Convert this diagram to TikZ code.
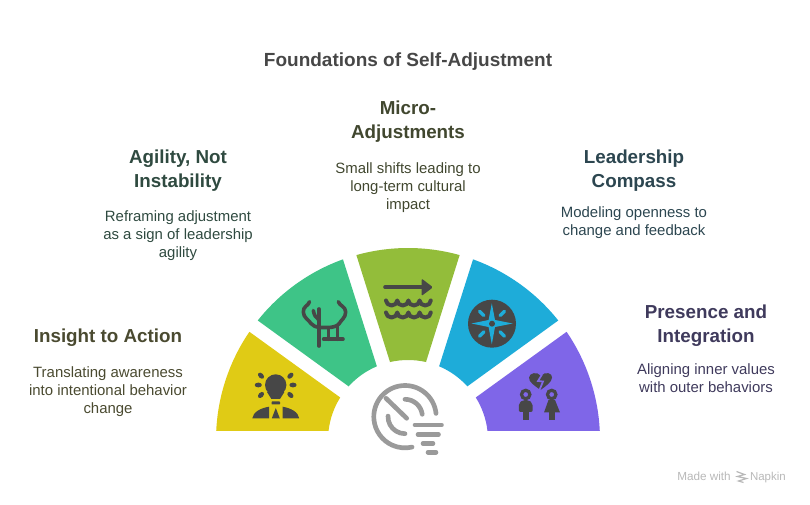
\documentclass[tikz,border=0pt]{standalone}
\usepackage{fontspec}
\setmainfont{Liberation Sans}
\usepackage{tikz}
\usetikzlibrary{positioning}
\usetikzlibrary{calc}
\tikzset{head node/.style={align=center,inner sep=0pt,font=\fontsize{14.1}{18}\selectfont\bfseries},
	desc node/.style={align=center,inner sep=0pt,font=\fontsize{11.2}{13.5}\selectfont},
	icon line/.style={draw=iconc,line width=2.7pt,line cap=round,line join=round},
	hub line/.style={draw=hubc,line width=3.5pt,line cap=round},}
\definecolor{iconc}{HTML}{474747}
\definecolor{hubc}{HTML}{9A9A9A}
\definecolor{yel}{HTML}{E0CB15}
\definecolor{grn}{HTML}{3EC487}
\definecolor{oli}{HTML}{93BD3A}
\definecolor{blu}{HTML}{1EACD9}
\definecolor{pur}{HTML}{7F66E8}
\definecolor{yelt}{HTML}{4A4A30}
\definecolor{grnt}{HTML}{2F4A40}
\definecolor{olit}{HTML}{41472F}
\definecolor{blut}{HTML}{2C4650}
\definecolor{purt}{HTML}{3F3A5C}
\definecolor{markc}{HTML}{B8B8B8}

\begin{document}
\begin{tikzpicture}[x=0.75pt, y=0.75pt]
	\useasboundingbox (0,0) rectangle (810,-505);
	\coordinate (hub) at (408,-440);

	% sectors: colour, outer from/to, inner from/to
	\foreach \col/\oa/\ob/\ia/\ib in {yel/177.3/145.7/147.9/173.5, grn/141.5/109.8/112.9/137.9,
		oli/105.6/74.4/77/103, blu/70.2/38.5/42.1/67.1, pur/34.3/2.7/6.5/32.1}
	\fill[\col] ($(hub)+(\oa:192)$) arc[start angle=\oa, end angle=\ob, radius=192]
		-- ($(hub)+(\ia:80)$) arc[start angle=\ia, end angle=\ib, radius=80] -- cycle;

	% texts
	\node[font=\fontsize{14.25}{18}\selectfont\bfseries, text=iconc, inner sep=0pt] (title) at (408,-62) {Foundations of Self-Adjustment};

	\node[head node, text=yelt] (insight) at (108,-338) {Insight to Action};
	\node[desc node, text=yelt, below=14.3pt of insight] (insightd) {Translating awareness\\into intentional behavior\\change};

	\node[head node, text=grnt] (agility) at (178,-170.5) {Agility, Not\\Instability};
	\node[desc node, text=grnt, below=14.5pt of agility] (agilityd) {Reframing adjustment\\as a sign of leadership\\agility};

	\node[head node, text=olit] (micro) at (408,-122) {Micro-\\Adjustments};
	\node[desc node, text=olit, below=14.3pt of micro] (microd) {Small shifts leading to\\long-term cultural\\impact};

	\node[head node, text=blut] (compass) at (634,-170.5) {Leadership\\Compass};
	\node[desc node, text=blut, below=11.5pt of compass] (compassd) {Modeling openness to\\change and feedback};

	\node[head node, text=purt] (presence) at (706,-326) {Presence and\\Integration};
	\node[desc node, text=purt, below=12.3pt of presence] (presenced) {Aligning inner values\\with outer behaviors};

	% bulb and person
	\fill[iconc] (275.7,-385) circle (10.7);
	\fill[iconc] (267,-392) -- (284.4,-392) -- (280,-399) -- (271.4,-399) -- cycle;
	\fill[iconc, rounded corners=0.5pt] (271.5,-401.5) rectangle (280,-404.5);
	\foreach \rx/\ry/\rot in {261/-375.7/-45, 258.3/-385/0, 261/-395/45, 290.4/-375.7/45, 293/-385/0, 290.4/-395/-45}
	\fill[iconc, rotate around={\rot:(\rx,\ry)}] (\rx,\ry) ellipse (3.6 and 2.4);
	\fill[iconc] (252.3,-418.3) .. controls (253,-412) and (261,-408) .. (269,-406.7) -- (269,-418.3) -- cycle;
	\fill[iconc] (299.2,-418.3) .. controls (298.5,-412) and (290.5,-408) .. (282.5,-406.7) -- (282.5,-418.3) -- cycle;
	\fill[iconc] (275.8,-408) -- (279.8,-418.3) -- (271.8,-418.3) -- cycle;

	% antlers
	\draw[icon line] (319,-309) -- (319,-346);
	\draw[icon line] (313.3,-310.5) .. controls (314,-315) and (316,-318) .. (319,-320);
	\draw[icon line] (309.5,-301.7) .. controls (308.5,-306) and (303,-306) .. (303.3,-312) .. controls (303.5,-318) and (309,-320) .. (311,-323.5) .. controls (313,-326) and (316,-327) .. (319,-327.5);
	\draw[icon line] (338.3,-301.7) .. controls (339.5,-306) and (345.5,-306) .. (345.7,-312) .. controls (345.5,-318) and (341,-320) .. (339.3,-323.5) .. controls (337.5,-326) and (333,-327.5) .. (328.3,-327.5) -- (319,-327.5);
	\draw[icon line] (328.3,-328) -- (328.3,-339.3);
	\draw[icon line] (337.3,-326) -- (337.3,-339.3);
	\draw[icon line] (323.6,-339.3) -- (343,-339.3);

	% arrow over waves
	\draw[icon line] (385,-287.3) -- (424,-287.3);
	\fill[iconc, rounded corners=1pt] (421.5,-278.5) -- (433,-287.3) -- (421.5,-296) -- cycle;
	\foreach \wy in {-300.5,-312.5}
	\draw[icon line, line width=3pt] (386,\wy) arc[start angle=180, end angle=360, x radius=5.6, y radius=5]
		arc[start angle=180, end angle=360, x radius=5.6, y radius=5]
		arc[start angle=180, end angle=360, x radius=5.6, y radius=5]
		arc[start angle=180, end angle=360, x radius=5.6, y radius=5];

	% compass
	\coordinate (needle) at (492,-323.7);
	\fill[iconc] (needle) circle (24);
	\fill[blu] (491.8,-303.3) -- (495,-320) -- (512.7,-323.5) -- (495,-327) -- (491.8,-344.3) -- (488.6,-327) -- (471.5,-323.5) -- (488.6,-320) -- cycle;
	\fill[iconc] (needle) circle (3);
	\foreach \ang in {45,135,225,315}
	\draw[blu, line width=2.5pt, line cap=round] ($(needle)+(\ang:11.5)$) -- ($(needle)+(\ang:17.5)$);

	% broken heart and two persons
	\fill[iconc] (540.5,-390) .. controls (535,-386) and (528.5,-382) .. (529,-377.5) .. controls (529.5,-373) and (537,-371) .. (541,-376)
		.. controls (545,-371) and (552.5,-373) .. (552,-377.5) .. controls (552,-382) and (546,-386) .. (540.5,-390) -- cycle;
	\draw[pur, line width=1.3pt, line join=miter] (542,-374.5) -- (538,-381) -- (543,-381.5) -- (539.5,-390);
	\foreach \px in {525.7,551.7} {
		\draw[iconc, line width=2.4pt, fill=pur] (\px,-394.5) circle (4.2);
		\fill[iconc] (\px-3.2,-410) rectangle (\px+3.2,-420); }
	\fill[iconc, rounded corners=1.5pt] (518.7,-412) -- (519,-403) -- (523,-400) -- (528.5,-400) -- (532.4,-403) -- (532.8,-412) -- cycle;
	\fill[iconc] (548.5,-400) -- (555,-400) -- (560,-412.5) -- (544,-412.5) -- cycle;

	% hub symbol
	\coordinate (ring) at (405,-416.7);
	\draw[hub line] ($(ring)+(6:31.2)$) arc[start angle=6, end angle=283, radius=31.2];
	\draw[hub line] (386,-398.3) -- (406.7,-418.3);
	\draw[hub line] ($(ring)+(90:17.4)$) arc[start angle=90, end angle=8, radius=17.4];
	\draw[hub line] ($(ring)+(178:17)$) arc[start angle=178, end angle=270, radius=17];
	\draw[hub line] (415,-425) -- (441.5,-425);
	\draw[hub line] (418,-434.5) -- (438.5,-434.5);
	\draw[hub line] (423,-443.5) -- (433,-443.5);
	\draw[hub line] (428,-452.3) -- (436,-452.3);

	% footer mark
	\node[font=\fontsize{8.8}{10}\selectfont, text=markc, inner sep=0pt, anchor=base west] (made) at (677,-481) {Made with};
	\node[font=\fontsize{8.6}{10}\selectfont, text=markc, inner sep=0pt, anchor=base east] (napkin) at (786,-481) {Napkin};
	\draw[markc, line width=0.9pt] (736.5,-471.5) -- (744.5,-474.5) -- (737.5,-476.5) -- (746.5,-478.5) -- (738.5,-481) -- (743.5,-482.5);
\end{tikzpicture}
\end{document}
